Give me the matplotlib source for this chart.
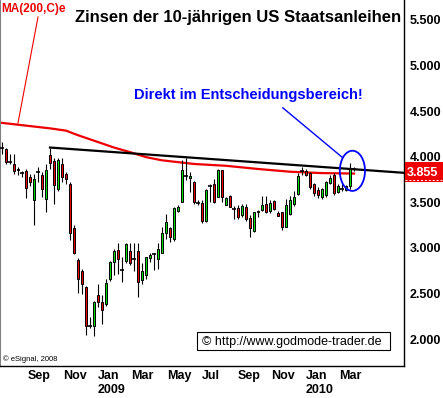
import matplotlib
matplotlib.use("Agg")
from matplotlib import pyplot as plt
from matplotlib.patches import Ellipse, Rectangle

plt.rcParams['font.family'] = ['Liberation Sans', 'DejaVu Sans']

# weekly candles, 10y US yield, Jul 2008 - Mar 2010
opens = [4.09, 4.08, 3.94, 3.92, 3.86, 3.82, 3.84, 3.78, 3.53, 3.83,
         3.80, 3.54, 4.02, 3.95, 3.65, 3.92, 3.81, 3.70, 3.22, 2.87,
         2.75, 2.57, 2.14, 2.14, 2.48, 2.41, 2.39, 2.66, 2.85, 2.98,
         2.76, 2.86, 2.97, 2.88, 2.97, 2.65, 2.70, 2.89, 2.93, 2.88,
         2.95, 3.16, 3.22, 3.10, 3.41, 3.50, 3.79, 3.77, 3.72, 3.49,
         3.49, 3.29, 3.68, 3.70, 3.56, 3.85, 3.47, 3.57, 3.43, 3.44,
         3.36, 3.45, 3.33, 3.19, 3.39, 3.42, 3.48, 3.40, 3.51, 3.38,
         3.39, 3.23, 3.37, 3.48, 3.59, 3.84, 3.84, 3.82, 3.70, 3.64,
         3.56, 3.58, 3.71, 3.80, 3.61, 3.65, 3.64, 3.68, 3.86]
highs = [4.16, 4.10, 4.03, 4.03, 3.89, 3.84, 3.87, 3.81, 3.81, 3.89,
         3.83, 3.92, 4.10, 3.98, 3.98, 3.98, 3.83, 3.72, 3.25, 2.89,
         2.77, 2.58, 2.24, 2.42, 2.61, 2.48, 2.66, 2.86, 2.99, 3.05,
         2.90, 3.05, 3.05, 3.05, 3.05, 2.83, 2.90, 2.95, 2.95, 3.05,
         3.23, 3.37, 3.23, 3.45, 3.47, 3.96, 3.99, 3.83, 3.73, 3.52,
         3.52, 3.65, 3.70, 3.76, 3.87, 3.85, 3.56, 3.58, 3.46, 3.47,
         3.48, 3.48, 3.36, 3.39, 3.42, 3.57, 3.57, 3.52, 3.52, 3.40,
         3.39, 3.54, 3.57, 3.62, 3.82, 3.89, 3.86, 3.83, 3.71, 3.67,
         3.66, 3.73, 3.80, 3.82, 3.70, 3.70, 3.69, 3.93, 3.89]
lows = [4.03, 3.92, 3.92, 3.81, 3.80, 3.78, 3.55, 3.68, 3.25, 3.72,
        3.56, 3.39, 3.87, 3.48, 3.62, 3.72, 3.70, 3.09, 2.93, 2.51,
        2.50, 2.05, 2.12, 2.04, 2.35, 2.17, 2.36, 2.64, 2.70, 2.72,
        2.63, 2.83, 2.81, 2.75, 2.46, 2.61, 2.66, 2.85, 2.76, 2.77,
        2.94, 3.10, 3.07, 3.08, 3.39, 3.50, 3.74, 3.61, 3.48, 3.47,
        3.27, 3.28, 3.50, 3.49, 3.56, 3.50, 3.47, 3.45, 3.32, 3.32,
        3.34, 3.30, 3.12, 3.17, 3.34, 3.41, 3.38, 3.38, 3.42, 3.35,
        3.20, 3.23, 3.36, 3.46, 3.58, 3.80, 3.79, 3.65, 3.57, 3.55,
        3.54, 3.56, 3.70, 3.58, 3.60, 3.62, 3.62, 3.65, 3.84]
closes = [4.09, 3.94, 3.94, 3.84, 3.85, 3.82, 3.66, 3.72, 3.76, 3.83,
          3.65, 3.85, 3.93, 3.69, 3.96, 3.78, 3.75, 3.16, 2.95, 2.66,
          2.60, 2.14, 2.14, 2.41, 2.41, 2.32, 2.62, 2.85, 2.97, 2.88,
          2.76, 3.04, 2.83, 2.88, 2.63, 2.75, 2.90, 2.92, 2.93, 2.99,
          3.16, 3.28, 3.12, 3.44, 3.45, 3.85, 3.79, 3.79, 3.50, 3.49,
          3.29, 3.64, 3.68, 3.50, 3.85, 3.56, 3.55, 3.45, 3.43, 3.34,
          3.46, 3.32, 3.22, 3.39, 3.41, 3.47, 3.39, 3.49, 3.43, 3.35,
          3.23, 3.47, 3.53, 3.56, 3.79, 3.84, 3.80, 3.67, 3.60, 3.58,
          3.65, 3.72, 3.77, 3.60, 3.68, 3.65, 3.68, 3.86, 3.86]

# MA(200) read at some candles
ma_idx = [0, 4, 8, 12, 16, 19, 24, 28, 32, 36, 40, 45, 48, 56, 64, 72, 80, 88]
ma_vals = [4.37, 4.35, 4.33, 4.31, 4.285, 4.235, 4.16, 4.10, 4.05, 3.995,
           3.96, 3.935, 3.92, 3.90, 3.865, 3.835, 3.82, 3.815]

# trendline (black)
trend_idx = [12, 100.5]
trend_vals = [4.10, 3.823]

month_pos = [6.4, 15.2, 24.0, 32.3, 41.2, 50.0, 59.0, 67.2, 76.0, 84.3]
month_labels = ["Sep", "Nov", "Jan\n2009", "Mar", "May", "Jul",
                "Sep", "Nov", "Jan\n2010", "Mar"]
yticks = [2.0, 2.5, 3.0, 3.5, 4.0, 4.5, 5.0, 5.5]
last_price = "3.855"

W, H = 443, 398
fig = plt.figure(figsize=(W / 100, H / 100), dpi=100)
ax = fig.add_axes([0, 32 / H, 404 / W, 366 / H])


def px(x, y):
    # figure pixel (from top-left) -> figure fraction
    return x / W, 1 - y / H


green = "#00dd00"
red = "#ee0000"

for i in range(len(opens)):
    o, h, l, c = opens[i], highs[i], lows[i], closes[i]
    ax.vlines(i, l, h, color="black", lw=0.8, zorder=3)
    if abs(c - o) < 0.005:
        ax.hlines(o, i - 0.45, i + 0.45, color="black", lw=1.2, zorder=4)
    else:
        col = green if c > o else red
        ax.bar(i, abs(c - o), bottom=min(o, c), width=0.6, color=col,
               edgecolor="black", lw=0.7, zorder=4)

ax.plot(ma_idx, ma_vals, color=red, lw=1.6, zorder=2)
ax.plot(trend_idx, trend_vals, color="black", lw=1.6, zorder=2)

# blue circle + pointer
ax.add_patch(Ellipse((87.6, 3.845), 6.3, 0.44, fill=False, edgecolor="#0000ff",
                     lw=1.3, zorder=5))
ax.plot([70.2, 85.0], [4.535, 3.995], color="#0000ff", lw=1.0, zorder=5)

ax.set_xlim(-0.5, 100.5)
ax.set_ylim(1.707, 5.716)

ax.spines["top"].set_visible(False)
ax.spines["left"].set_color("#808080")
ax.spines["left"].set_linewidth(1.5)
ax.spines["right"].set_linewidth(1.0)
ax.spines["bottom"].set_linewidth(1.0)

ax.yaxis.tick_right()
ax.set_yticks(yticks)
ax.set_yticklabels([f"{v:.3f}" for v in yticks], fontsize=9, fontweight="bold")
ax.tick_params(axis="y", length=0, pad=4)

ax.set_xticks(month_pos)
ax.set_xticklabels(month_labels, fontsize=9, fontweight="bold")
for t in ax.get_xticklabels():
    t.set_horizontalalignment("left")
    t.set_multialignment("left")
ax.tick_params(axis="x", length=0, pad=3)

# texts
fig.text(*px(75, 22), "Zinsen der 10-jährigen US Staatsanleihen", fontsize=12,
         fontweight="bold", ha="left", va="baseline")
fig.text(*px(134, 99.5), "Direkt im Entscheidungsbereich!", fontsize=10.5,
         fontweight="bold", color="#0000ff", ha="left", va="baseline")
fig.text(*px(1, 12), "MA(200,C)e", fontsize=8.5, fontweight="bold", color=red,
         ha="left", va="baseline")
fig.add_artist(plt.Line2D([38 / W, 18 / W], [1 - 17 / H, 1 - 123 / H],
                          color=red, lw=0.8))

fig.text(*px(3, 361), "© eSignal, 2008", fontsize=5.5, ha="left", va="baseline")

fig.add_artist(Rectangle(px(197, 350), 193 / W, 18 / H, facecolor="white",
                         edgecolor="black", lw=0.8))
fig.text(*px(202, 345.5), "© http://www.godmode-trader.de", fontsize=9,
         ha="left", va="baseline")

# last price box
fig.add_artist(Rectangle(px(405, 182), 38 / W, 20 / H, facecolor=red,
                         edgecolor="none"))
fig.text(*px(407, 176), last_price, fontsize=9, fontweight="bold",
         color="white", ha="left", va="baseline")
fig.add_artist(plt.Line2D([405 / W, 443 / W], [1 - 179.5 / H, 1 - 179.5 / H],
                          color="white", lw=0.7, ls=(0, (2, 2))))

fig.savefig("out.png", dpi=100)
